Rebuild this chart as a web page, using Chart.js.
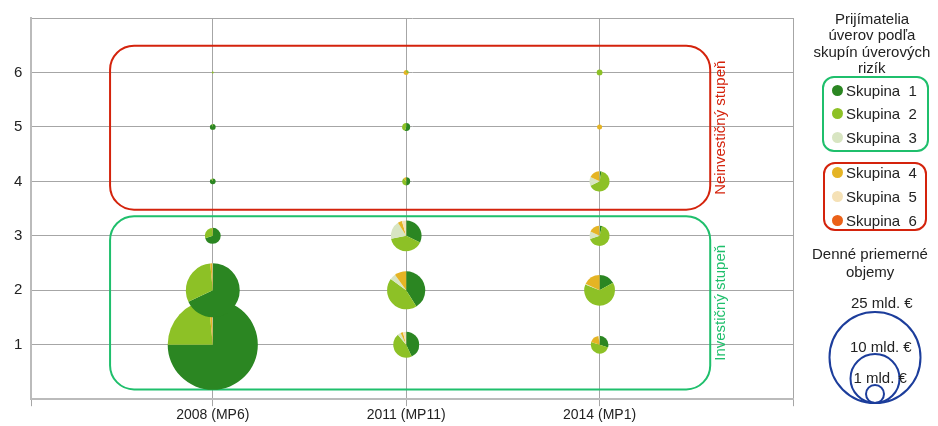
<!DOCTYPE html>
<html>
<head>
<meta charset="utf-8">
<script src="https://cdn.jsdelivr.net/npm/chart.js@4"></script>
<style>
  body { margin: 0; background: #fff; font-family: 'Liberation Sans', Arial, sans-serif; color: #222; }
  #wrap { position: relative; width: 938px; height: 426px; }
  #chart { position: absolute; left: 0; top: 0; }
  .txt { position: absolute; font-size: 15px; line-height: 17px; white-space: pre; }
  .box { position: absolute; box-sizing: border-box; border: 2px solid; border-radius: 12px; }
  .dot { position: absolute; width: 11px; height: 11px; border-radius: 50%; }
</style>
</head>
<body>
<div id="wrap">
  <canvas id="chart" width="938" height="426"></canvas>
  <svg id="sizes" width="938" height="426" style="position:absolute;left:0;top:0"></svg>
  <div id="legend"></div>
</div>
<script>
// categories (x) and risk levels (y)
const years = ['2008 (MP6)', '2011 (MP11)', '2014 (MP1)'];
const levels = [1, 2, 3, 4, 5, 6];
const groupNames = ['Skupina  1', 'Skupina  2', 'Skupina  3', 'Skupina  4', 'Skupina  5', 'Skupina  6'];
const groupColors = ['#2b8622', '#8dc126', '#d8e5c2', '#e5b424', '#f5e1b6', '#eb6118'];

// daily average volumes (bn EUR) for levels 1..6
const volume2008 = [24, 8.6, 0.75, 0.1, 0.1, 0.012];
const volume2011 = [2.0, 4.3, 2.8, 0.19, 0.19, 0.075];
const volume2014 = [0.93, 2.8, 1.2, 1.2, 0.075, 0.1];

// share of each group (%) in every bubble, levels 1..6
const shares2008 = [
  [75, 23.5, 0, 1.2, 0.3, 0],
  [68, 30.5, 0, 1.2, 0.3, 0],
  [70, 29, 0, 1, 0, 0],
  [90, 10, 0, 0, 0, 0],
  [95, 5, 0, 0, 0, 0],
  [0, 100, 0, 0, 0, 0]
];
const shares2011 = [
  [43, 46, 4, 3, 4, 0],
  [41, 44, 5, 10, 0, 0],
  [32, 40, 19, 4.5, 4.5, 0],
  [50, 40, 0, 10, 0, 0],
  [55, 45, 0, 0, 0, 0],
  [0, 30, 0, 70, 0, 0]
];
const shares2014 = [
  [30, 50, 0, 18, 2, 0],
  [17, 64, 1, 18, 0, 0],
  [4, 66, 12, 17, 1, 0],
  [3, 65, 14, 17, 1, 0],
  [0, 0, 0, 100, 0, 0],
  [0, 100, 0, 0, 0, 0]
];

// size legend labels (bn EUR)
const sizeLegend = ['25 mld. €', '10 mld. €', '1 mld. €'];

const volumes = [volume2008, volume2011, volume2014];
const shares = [shares2008, shares2011, shares2014];

// bubble area proportional to volume: 25 bn -> radius 46px
const radiusFor = v => 46 * Math.sqrt(v / 25);

const datasets = years.map((label, k) => ({
  label,
  data: levels.map((lvl, i) => ({ x: k + 1, y: lvl, r: radiusFor(volumes[k][i]), parts: shares[k][i] })),
  backgroundColor: 'rgba(0,0,0,0)',
  borderWidth: 0,
  hoverRadius: 0
}));

// pies drawn at bubble positions
const piePlugin = {
  id: 'pies',
  afterDatasetsDraw(chart) {
    const ctx = chart.ctx;
    chart.data.datasets.forEach((ds, di) => {
      const meta = chart.getDatasetMeta(di);
      meta.data.forEach((el, i) => {
        const pt = ds.data[i];
        const total = pt.parts.reduce((a, b) => a + b, 0);
        let start = -Math.PI / 2;
        pt.parts.forEach((p, g) => {
          if (p <= 0) return;
          const end = start + (p / total) * Math.PI * 2;
          ctx.beginPath();
          ctx.moveTo(el.x, el.y);
          ctx.arc(el.x, el.y, pt.r, start, end);
          ctx.closePath();
          ctx.fillStyle = groupColors[g];
          ctx.fill();
          start = end;
        });
      });
    });
  }
};

// rating grade frames
const frames = [
  { x0: 0.469, x1: 3.572, y0: 3.48, y1: 6.49, color: '#d4230c', text: 'Neinvestičný stupeň' },
  { x0: 0.469, x1: 3.572, y0: 0.18, y1: 3.36, color: '#1fbf6c', text: 'Investičný stupeň' }
];

const framePlugin = {
  id: 'frames',
  beforeDatasetsDraw(chart) {
    const { ctx, scales: { x, y } } = chart;
    frames.forEach(f => {
      const l = x.getPixelForValue(f.x0), r = x.getPixelForValue(f.x1);
      const t = y.getPixelForValue(f.y1), b = y.getPixelForValue(f.y0);
      ctx.save();
      ctx.strokeStyle = f.color;
      ctx.lineWidth = 2;
      ctx.beginPath();
      ctx.roundRect(l, t, r - l, b - t, 24);
      ctx.stroke();
      ctx.translate(r + 11, (t + b) / 2);
      ctx.rotate(-Math.PI / 2);
      ctx.fillStyle = f.color;
      ctx.font = "15px 'Liberation Sans', Arial";
      ctx.textAlign = 'center';
      ctx.textBaseline = 'middle';
      ctx.fillText(f.text, 0, 0);
      ctx.restore();
    });
  }
};

new Chart(document.getElementById('chart'), {
  type: 'bubble',
  data: { datasets },
  plugins: [framePlugin, piePlugin],
  options: {
    responsive: false,
    animation: false,
    events: [],
    layout: { autoPadding: false, padding: { left: 5, right: 145, top: 9.5, bottom: 1 } },
    plugins: { legend: { display: false }, tooltip: { enabled: false } },
    scales: {
      x: {
        type: 'linear',
        min: 0.062,
        max: 4,
        afterBuildTicks: axis => { axis.ticks = [0.062, 1, 2, 3, 4].map(v => ({ value: v })); },
        ticks: {
          callback: v => years[v - 1] || '',
          color: '#222',
          font: { family: "'Liberation Sans', Arial", size: 14 },
          padding: 1,
          maxRotation: 0,
          autoSkip: false
        },
        grid: { color: '#a6a6a6', lineWidth: 1, tickLength: 7 },
        border: { color: '#bbbbbb', width: 2 }
      },
      y: {
        min: 0,
        max: 7,
        ticks: {
          stepSize: 1,
          callback: v => (v >= 1 && v <= 6 ? v : ''),
          color: '#222',
          font: { family: "'Liberation Sans', Arial", size: 15 },
          padding: 9
        },
        grid: { color: '#a6a6a6', lineWidth: 1, drawTicks: false },
        border: { color: '#bbbbbb', width: 2 }
      }
    }
  }
});

// legend on the right
const legend = document.getElementById('legend');
const addText = (text, cx, cy, color) => {
  const d = document.createElement('div');
  d.className = 'txt';
  d.textContent = text;
  d.style.left = '0px';
  d.style.top = (cy - 8.5) + 'px';
  if (color) d.style.color = color;
  legend.appendChild(d);
  d.style.left = (cx - d.offsetWidth / 2) + 'px';
  return d;
};
['Prijímatelia', 'úverov podľa', 'skupín úverových', 'rizík'].forEach((t, i) => addText(t, 872, 18 + i * 16.5));

const addBox = (l, t, w, h, color) => {
  const b = document.createElement('div');
  b.className = 'box';
  Object.assign(b.style, { left: l + 'px', top: t + 'px', width: w + 'px', height: h + 'px', borderColor: color });
  legend.appendChild(b);
};
addBox(822, 76, 107, 76, '#1fbf6c');
addBox(823, 162, 104, 69, '#d4230c');

const rowY = [90, 113.5, 137, 172.5, 196.5, 220.5];
groupNames.forEach((name, g) => {
  const dot = document.createElement('div');
  dot.className = 'dot';
  dot.style.background = groupColors[g];
  dot.style.left = (837 - 5.5) + 'px';
  dot.style.top = (rowY[g] - 5.5) + 'px';
  legend.appendChild(dot);
  const t = addText(name, 0, rowY[g]);
  t.style.left = '846px';
});

addText('Denné priemerné', 870, 253);
addText('objemy', 870, 271.5);

// size key circles, all touching a common bottom line
const svg = document.getElementById('sizes');
const keyRadius = [45.5, 24.5, 9];
const keyLabelY = [302.5, 346.5, 377];
const keyLabelX = [882, 881, 880];
const baseY = 403, cxSize = 875;
sizeLegend.forEach((label, i) => {
  const r = keyRadius[i];
  const c = document.createElementNS('http://www.w3.org/2000/svg', 'circle');
  c.setAttribute('cx', cxSize);
  c.setAttribute('cy', baseY - r);
  c.setAttribute('r', r);
  c.setAttribute('fill', 'none');
  c.setAttribute('stroke', '#1c3d9b');
  c.setAttribute('stroke-width', 2);
  svg.appendChild(c);
  addText(label, keyLabelX[i], keyLabelY[i]);
});
</script>
</body>
</html>
